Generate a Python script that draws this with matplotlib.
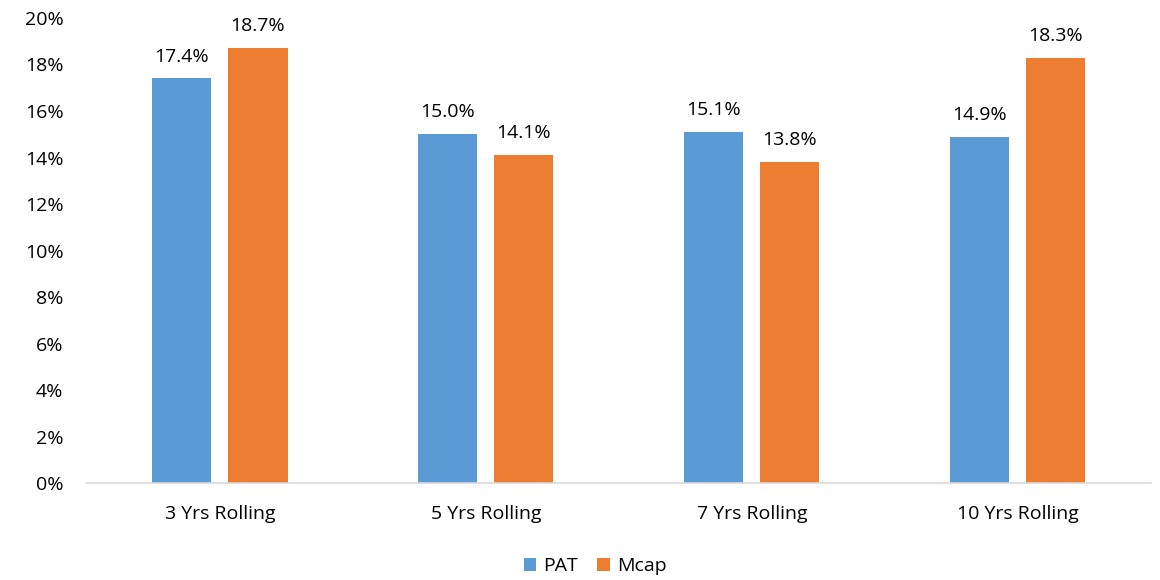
import matplotlib
matplotlib.use("Agg")
import matplotlib.pyplot as plt
import numpy as np
from matplotlib.ticker import FuncFormatter

categories = ["3 Yrs Rolling", "5 Yrs Rolling", "7 Yrs Rolling", "10 Yrs Rolling"]
pat = [17.4, 15.0, 15.1, 14.9]
mcap = [18.7, 14.1, 13.8, 18.3]

plt.rcParams['font.family'] = ['Open Sans', 'DejaVu Sans']

fig = plt.figure(figsize=(11.6, 5.8), dpi=100)
ax = fig.add_axes([0.075, 0.167, 0.917, 0.802])

x = np.arange(len(categories))
w = 0.222
off = 0.143
b1 = ax.bar(x - off, pat, w, color='#5B9BD5', label='PAT')
b2 = ax.bar(x + off, mcap, w, color='#ED7D31', label='Mcap')

fs = 14
for bars, vals in ((b1, pat), (b2, mcap)):
    for r, v in zip(bars, vals):
        ax.text(r.get_x() + r.get_width() / 2, v + 0.55, f"{v:.1f}%",
                ha='center', va='bottom', fontsize=fs, color='#000000')

ax.set_xlim(-0.5, len(categories) - 0.5)
ax.set_ylim(0, 20)
ax.set_yticks(np.arange(0, 21, 2))
ax.yaxis.set_major_formatter(FuncFormatter(lambda v, p: f"{int(v)}%"))
ax.set_xticks(x)
ax.set_xticklabels(categories)
ax.tick_params(axis='both', length=0, labelsize=fs, colors='#000000')
ax.tick_params(axis='x', pad=16)
ax.tick_params(axis='y', pad=17)
for s in ['top', 'right', 'left']:
    ax.spines[s].set_visible(False)
ax.spines['bottom'].set_color('#D9D9D9')
ax.spines['bottom'].set_linewidth(1.2)

fig.legend(handles=[b1, b2], labels=['PAT', 'Mcap'], loc='center',
           bbox_to_anchor=(0.513, 0.024), ncol=2, frameon=False,
           fontsize=fs, handlelength=0.65, handleheight=0.65,
           handletextpad=0.35, columnspacing=1.0)

fig.savefig("out.png", dpi=100)
